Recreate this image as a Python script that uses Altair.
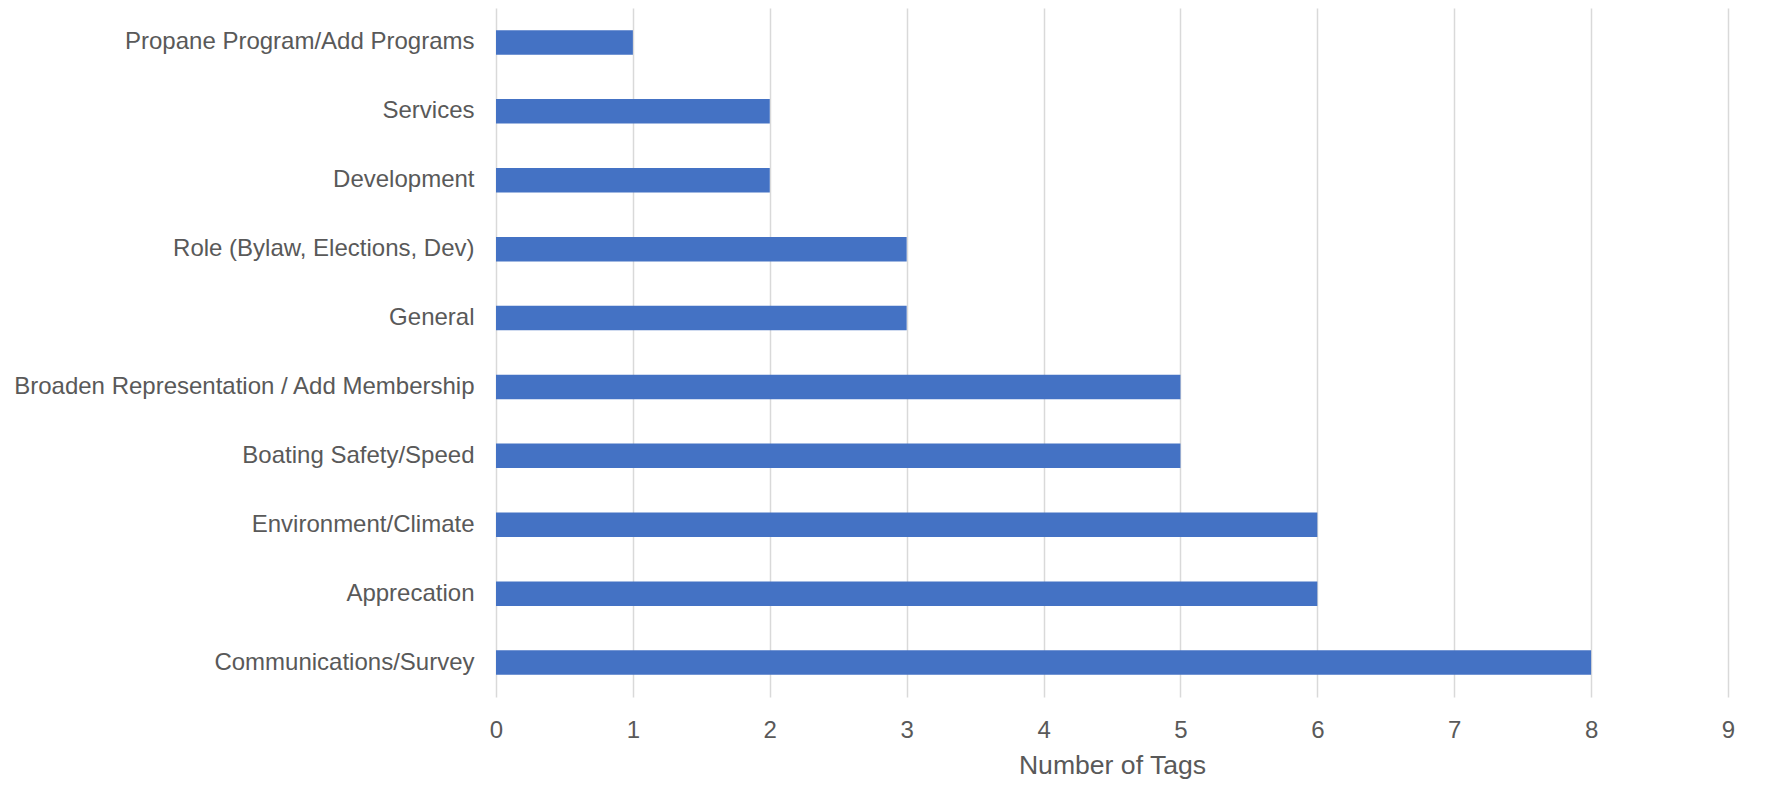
import altair as alt
import pandas as pd

categories = [
    "Propane Program/Add Programs",
    "Services",
    "Development",
    "Role (Bylaw, Elections, Dev)",
    "General",
    "Broaden Representation / Add Membership",
    "Boating Safety/Speed",
    "Environment/Climate",
    "Apprecation",
    "Communications/Survey",
]
counts = [1, 2, 2, 3, 3, 5, 5, 6, 6, 8]
x_ticks = [0, 1, 2, 3, 4, 5, 6, 7, 8, 9]

df = pd.DataFrame({"category": categories, "count": counts})

FONT = "Liberation Sans"
TEXT = "#595959"

chart = (
    alt.Chart(df)
    .mark_bar(color="#4472C4")
    .encode(
        x=alt.X(
            "count:Q",
            scale=alt.Scale(domain=[0, 9], nice=False),
            axis=alt.Axis(
                title="Number of Tags",
                values=x_ticks,
                format="d",
                grid=True,
                gridColor="#D9D9D9",
                gridWidth=1.5,
                domain=False,
                ticks=False,
                labelFlush=False,
                labelPadding=21,
                labelFontSize=24,
                labelColor=TEXT,
                labelFont=FONT,
                titleFontSize=26.6,
                titleFontWeight="normal",
                titleColor=TEXT,
                titleFont=FONT,
                titlePadding=10,
            ),
        ),
        y=alt.Y(
            "category:N",
            sort=categories,
            scale=alt.Scale(paddingInner=0.644, paddingOuter=0.322),
            axis=alt.Axis(
                title=None,
                domain=False,
                ticks=False,
                tickSize=0,
                grid=False,
                labelPadding=22,
                labelFontSize=24,
                labelColor=TEXT,
                labelFont=FONT,
                labelLimit=1000,
            ),
        ),
    )
    .properties(
        width=1232,
        height=689,
        background="white",
        autosize=alt.AutoSizeParams(type="none"),
        padding={"left": 488, "top": 0, "right": 30, "bottom": 95},
    )
    .configure_view(strokeWidth=0, stroke=None)
)

chart.save("out.html", embed_options={"renderer": "svg", "actions": False})
